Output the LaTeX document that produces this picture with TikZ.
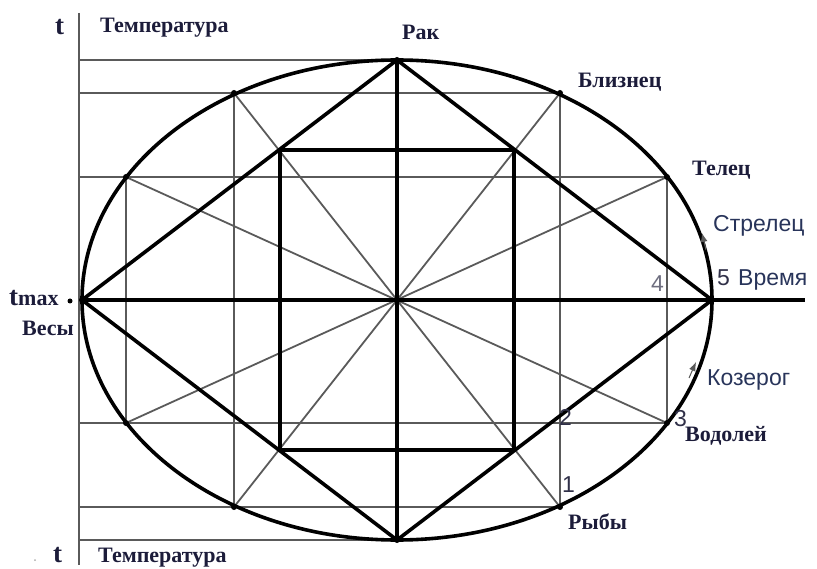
\documentclass[tikz,border=0pt]{standalone}
\usepackage{fontspec}
\usetikzlibrary{arrows.meta}
\newfontfamily\tnr{Liberation Serif}
\newfontfamily\ari{Liberation Sans}
\definecolor{navy}{HTML}{1C1C3A}
\definecolor{sblue}{HTML}{28345A}
\definecolor{digit}{HTML}{303048}
\definecolor{thin}{HTML}{5A5A5A}
\tikzset{
  thinline/.style={draw=thin, line width=1.8pt},
  thickline/.style={draw=black, line width=3.6pt, line join=miter},
  dotmark/.style={fill=black, circle, inner sep=0pt, minimum size=6pt},
  serlab/.style={text=navy, font=\tnr\bfseries\fontsize{22}{22}\selectfont, inner sep=0pt, anchor=base west},
  sanlab/.style={text=sblue, font=\ari\fontsize{23}{23}\selectfont, inner sep=0pt, anchor=base west},
  diglab/.style={text=digit, font=\ari\fontsize{23}{23}\selectfont, inner sep=0pt, anchor=base west},
  flowtip/.style={draw=thin, fill=thin, line width=1pt, -{Latex[length=9pt,width=7pt]}},
}
\begin{document}
\begin{tikzpicture}[x=1pt,y=-1pt]
\useasboundingbox (0,0) rectangle (817,569);
% key points
\coordinate (C) at (397,300);
\coordinate (T) at (397,60);
\coordinate (B) at (397,540);
\coordinate (L) at (82,300);
\coordinate (R) at (712,300);
\coordinate (E) at (805,300);
\coordinate (P30R) at (667,177);
\coordinate (P60R) at (560,93);
\coordinate (P30L) at (126,177);
\coordinate (P60L) at (234,93);
\coordinate (P30Rb) at (667,423);
\coordinate (P60Rb) at (560,507);
\coordinate (P30Lb) at (126,423);
\coordinate (P60Lb) at (234,507);
% axis points
\coordinate (Atop) at (79,13);
\coordinate (Abot) at (79,565);
\coordinate (A60) at (79,60);
\coordinate (A93) at (79,93);
\coordinate (A177) at (79,177);
\coordinate (A423) at (79,423);
\coordinate (A507) at (79,507);
\coordinate (A540) at (79,540);
% square corners
\coordinate (S1) at (280,150);
\coordinate (S2) at (514,150);
\coordinate (S3) at (514,450);
\coordinate (S4) at (280,450);

% thin construction lines
\draw[thinline] (Atop) -- (Abot);
\draw[thinline] (A60) -- (T);
\draw[thinline] (A93) -- (P60R);
\draw[thinline] (A177) -- (P30R);
\draw[thinline] (A423) -- (P30Rb);
\draw[thinline] (A507) -- (P60Rb);
\draw[thinline] (A540) -- (B);
\draw[thinline] (P30L) -- (P30Lb);
\draw[thinline] (P60L) -- (P60Lb);
\draw[thinline] (P60R) -- (P60Rb);
\draw[thinline] (P30R) -- (P30Rb);
\draw[thinline] (P60L) -- (P60Rb);
\draw[thinline] (P60R) -- (P60Lb);
\draw[thinline] (P30L) -- (P30Rb);
\draw[thinline] (P30R) -- (P30Lb);

% thick figures
\draw[thickline] (C) ellipse [x radius=315, y radius=240];
\draw[thickline] (T) -- (R) -- (B) -- (L) -- cycle;
\draw[thickline] (S1) -- (S2) -- (S3) -- (S4) -- cycle;
\draw[thickline] (L) -- (E);
\draw[thickline] (T) -- (B);

% dots
\foreach \p in {T,B,L,R,P30R,P60R,P30L,P60L,P30Rb,P60Rb,P30Lb,P60Lb,C}
  \node[dotmark] at (\p) {};
\node[dotmark, minimum size=5pt] (tdot) at (70,301) {};
\node[circle, fill=thin!50, inner sep=0pt, minimum size=2pt] (gdot) at (35,560) {};

% direction marks
\coordinate (F1a) at (706,250);
\coordinate (F1b) at (702,233);
\coordinate (F2a) at (689,378);
\coordinate (F2b) at (696,362);
\draw[flowtip] (F1a) -- (F1b);
\draw[flowtip] (F2a) -- (F2b);

% labels
\node[text=navy, font=\tnr\bfseries\fontsize{27}{27}\selectfont, inner sep=0pt, anchor=base west] (t1) at (55,35) {t};
\node[serlab] (temp1) at (100,33) {Температура};
\node[serlab] (rak) at (402,40) {Рак};
\node[serlab] (bliz) at (578,88) {Близнец};
\node[serlab] (tel) at (692,176) {Телец};
\node[sanlab] (strel) at (713,232) {Стрелец};
\node[diglab] (n5) at (717,286) {5};
\node[sanlab] (vrem) at (738,286) {Время};
\node[diglab, text=digit!70] (n4) at (651,292) {4};
\node[text=navy, inner sep=0pt, anchor=base west] (tmax) at (9,306) {\tnr\bfseries\fontsize{27}{27}\selectfont t\fontsize{22}{22}\selectfont max};
\node[serlab] (vesy) at (22,336) {Весы};
\node[sanlab] (koz) at (707,385) {Козерог};
\node[diglab] (n3) at (674,426) {3};
\node[serlab] (vod) at (685,441) {Водолей};
\node[diglab] (n2) at (559,425) {2};
\node[diglab] (n1) at (562,492) {1};
\node[serlab] (ryby) at (568,529) {Рыбы};
\node[text=navy, font=\tnr\bfseries\fontsize{27}{27}\selectfont, inner sep=0pt, anchor=base west] (t2) at (53,562) {t};
\node[serlab] (temp2) at (98,562) {Температура};
\end{tikzpicture}
\end{document}
